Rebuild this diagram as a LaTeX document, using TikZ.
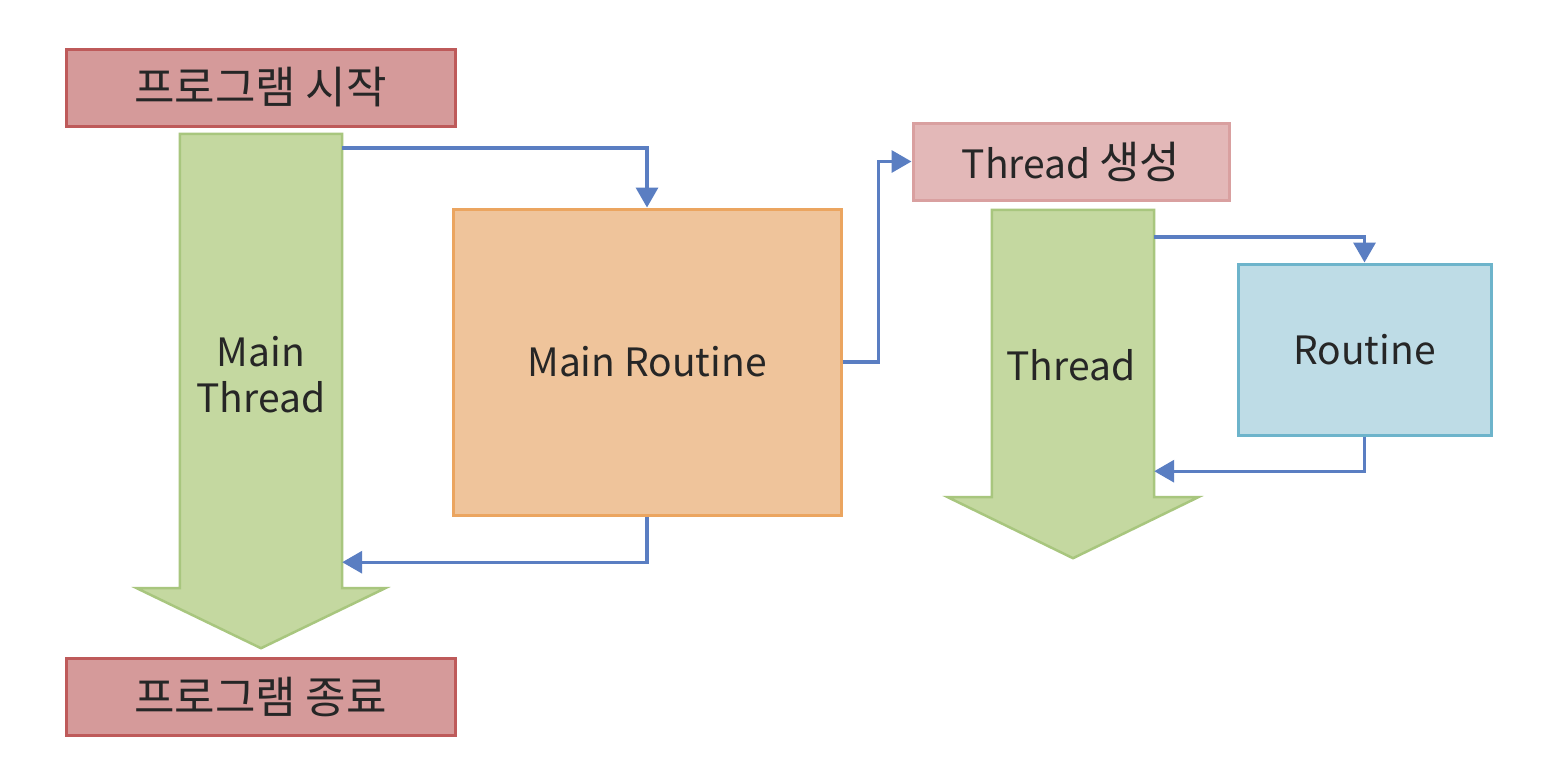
\documentclass[tikz,border=0pt]{standalone}
\usepackage{fontspec}
\setmainfont{Noto Sans CJK KR}
\usetikzlibrary{arrows.meta}
\definecolor{redfill}{HTML}{D59A9A}
\definecolor{redline}{HTML}{BE5A5A}
\definecolor{pinkfill}{HTML}{E3B8B8}
\definecolor{pinkline}{HTML}{D9A0A0}
\definecolor{greenfill}{HTML}{C4D8A0}
\definecolor{greenline}{HTML}{A8C67E}
\definecolor{orangefill}{HTML}{EFC49B}
\definecolor{orangeline}{HTML}{EBA560}
\definecolor{bluefill}{HTML}{BEDCE6}
\definecolor{blueline}{HTML}{6DB4CB}
\definecolor{linkblue}{HTML}{5A7EC2}
\definecolor{ink}{HTML}{262626}
% Hangul is set a little larger than the Latin text
\newcommand\hangul[1]{{\fontsize{44}{50}\selectfont #1}}
\tikzset{
  box/.style={draw, line width=3pt, inner sep=0pt, text=ink},
  endbox/.style={box, fill=redfill, draw=redline, minimum width=389pt, minimum height=77pt},
  shaft/.style={inner sep=0pt},
  bigarrow/.style={fill=greenfill, draw=greenline, line width=2.5pt, line join=miter},
  label/.style={text=ink, align=center, font=\fontsize{39}{46}\selectfont},
  conn/.style={draw=linkblue, line width=3.4pt, -{Triangle[length=20pt, width=22pt]}}
}
\begin{document}
\begin{tikzpicture}[x=1pt, y=-1pt, font=\fontsize{39}{46}\selectfont]
\useasboundingbox (0,0) rectangle (1542,772);
\fill[white] (0,0) rectangle (1542,772);

% start and end of the program
\node[endbox] (start) at (260.5,87.5) {\hangul{프로그램 시작}};
\node[endbox] (stop) at (260.5,696.5) {\hangul{프로그램 종료}};

% main thread: shaft area and the big down arrow
\node[shaft, minimum width=162pt, minimum height=454pt] (mt) at (261,361) {};
\draw[bigarrow] (mt.north west) -- (mt.north east) -- (mt.south east) -- ++(43,0)
  -- ([yshift=-60pt]mt.south) -- ([xshift=-43pt]mt.south west) -- (mt.south west) -- cycle;
\node[label] (mtlabel) at (261,375) {Main\\Thread};

% main routine
\node[box, fill=orangefill, draw=orangeline, minimum width=388pt, minimum height=306pt] (mr) at (647,362) {Main Routine};

% thread creation
\node[box, fill=pinkfill, draw=pinkline, minimum width=316pt, minimum height=77pt] (tc) at (1071,161.5) {Thread \hangul{생성}};

% worker thread: shaft area and the big down arrow
\node[shaft, minimum width=162pt, minimum height=287pt] (tt) at (1073,353.5) {};
\draw[bigarrow] (tt.north west) -- (tt.north east) -- (tt.south east) -- ++(44,0)
  -- ([yshift=-61pt]tt.south) -- ([xshift=-44pt]tt.south west) -- (tt.south west) -- cycle;
\node[label] (ttlabel) at (1071,365) {Thread};

% routine
\node[box, fill=bluefill, draw=blueline, minimum width=253pt, minimum height=171pt] (rt) at (1364.5,349.5) {Routine};

% connectors
\draw[conn] ([yshift=-14pt]mt.north east) -| (mr.north);
\draw[conn] (mr.south) |- ([yshift=26pt]mt.south east);
\draw[conn] (mr.east) -- ++(36,0) |- (tc.west);
\draw[conn] ([yshift=-27pt]tt.north east) -| (rt.north);
\draw[conn] (rt.south) |- ([yshift=26pt]tt.south east);
\end{tikzpicture}
\end{document}
